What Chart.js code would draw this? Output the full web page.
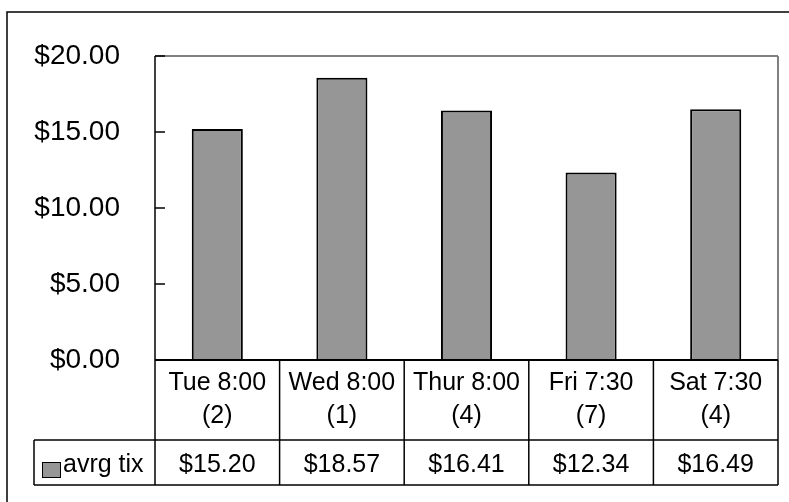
<!DOCTYPE html>
<html>
<head>
<meta charset="utf-8">
<script src="https://cdn.jsdelivr.net/npm/chart.js@4.4.1/dist/chart.umd.min.js"></script>
<style>
  html, body { margin: 0; padding: 0; background: #fff; }
</style>
</head>
<body>
<canvas id="myBarChart" width="789" height="502"></canvas>
<script>
const showTimes = ['Tue 8:00', 'Wed 8:00', 'Thur 8:00', 'Fri 7:30', 'Sat 7:30'];
const showCounts = [2, 1, 4, 7, 4];
const avgTix = [15.20, 18.57, 16.41, 12.34, 16.49];
const yTicks = [0, 5, 10, 15, 20];
const seriesName = 'avrg tix';

const FONT = '"Liberation Sans", Arial, sans-serif';
const BAR_GREY = '#969696';
const money = (v) => '$' + Number(v).toFixed(2);

const line = (ctx, x1, y1, x2, y2) => {
  ctx.beginPath();
  ctx.moveTo(x1, y1);
  ctx.lineTo(x2, y2);
  ctx.stroke();
};

// outer frame, plot frame, inside ticks and the data table under the plot
const frameAndTable = {
  id: 'frameAndTable',
  beforeDraw(chart) {
    const { ctx, width, height } = chart;
    ctx.save();
    ctx.fillStyle = '#fff';
    ctx.fillRect(0, 0, width, height);
    ctx.strokeStyle = '#000';
    ctx.lineWidth = 1.5;
    ctx.strokeRect(7, 12, width + 20, height + 20);
    ctx.restore();
  },
  afterDraw(chart) {
    const { ctx, chartArea: a } = chart;
    const x = chart.scales.x;
    const y = chart.scales.y;
    const step = x.getPixelForValue(1) - x.getPixelForValue(0);

    ctx.save();
    // plot frame
    ctx.strokeStyle = '#808080';
    ctx.lineWidth = 2;
    line(ctx, a.left, a.top, a.right, a.top);
    line(ctx, a.right, a.top, a.right, a.bottom);
    ctx.strokeStyle = '#000';
    ctx.lineWidth = 1.5;
    line(ctx, a.left, a.top, a.left, a.bottom);
    yTicks.forEach((t) => {
      const py = y.getPixelForValue(t);
      line(ctx, a.left, py, a.left + 10, py);
    });
    ctx.lineWidth = 2;
    line(ctx, a.left, a.bottom, a.right, a.bottom);

    // data table
    const r0 = a.bottom;
    const r1 = r0 + 80;
    const r2 = r1 + 45;
    const keyLeft = 34;
    ctx.lineWidth = 1.5;
    line(ctx, keyLeft, r1, a.right, r1);
    line(ctx, keyLeft, r2, a.right, r2);
    line(ctx, keyLeft, r1, keyLeft, r2);
    for (let i = 0; i <= showTimes.length; i++) {
      const ex = x.getPixelForValue(0) - step / 2 + i * step;
      line(ctx, ex, r0, ex, r2);
    }

    ctx.fillStyle = '#000';
    ctx.font = '25px ' + FONT;
    ctx.textAlign = 'center';
    ctx.textBaseline = 'alphabetic';
    showTimes.forEach((t, i) => {
      const cx = x.getPixelForValue(i);
      ctx.fillText(t, cx, r0 + 30);
      ctx.fillText('(' + showCounts[i] + ')', cx, r0 + 63);
      ctx.fillText(money(avgTix[i]), cx, r1 + 32);
    });

    // legend key
    ctx.fillStyle = BAR_GREY;
    ctx.fillRect(42, r1 + 22, 18, 15);
    ctx.lineWidth = 1;
    ctx.strokeRect(42.5, r1 + 22.5, 18, 15);
    ctx.fillStyle = '#000';
    ctx.textAlign = 'left';
    ctx.fillText(seriesName, 63, r1 + 32);
    ctx.restore();
  }
};

const ctx = document.getElementById('myBarChart').getContext('2d');
new Chart(ctx, {
  type: 'bar',
  data: {
    labels: showTimes,
    datasets: [{
      label: seriesName,
      data: avgTix,
      backgroundColor: BAR_GREY,
      borderColor: '#000',
      borderWidth: 2,
      categoryPercentage: 1,
      barPercentage: 0.41
    }]
  },
  options: {
    responsive: false,
    animation: false,
    devicePixelRatio: 1,
    layout: { padding: { left: 0, top: 56, right: 11, bottom: 142 } },
    plugins: {
      legend: { display: false },
      tooltip: { enabled: false }
    },
    scales: {
      x: { display: false },
      y: {
        min: 0,
        max: 20,
        afterFit: (scale) => { scale.width = 155; },
        afterBuildTicks: (scale) => { scale.ticks = yTicks.map((v) => ({ value: v })); },
        grid: { display: false, drawTicks: false },
        border: { display: false },
        ticks: {
          padding: 35,
          color: '#000',
          font: { family: FONT, size: 28 },
          callback: (v) => money(v)
        }
      }
    }
  },
  plugins: [frameAndTable]
});
</script>
</body>
</html>
